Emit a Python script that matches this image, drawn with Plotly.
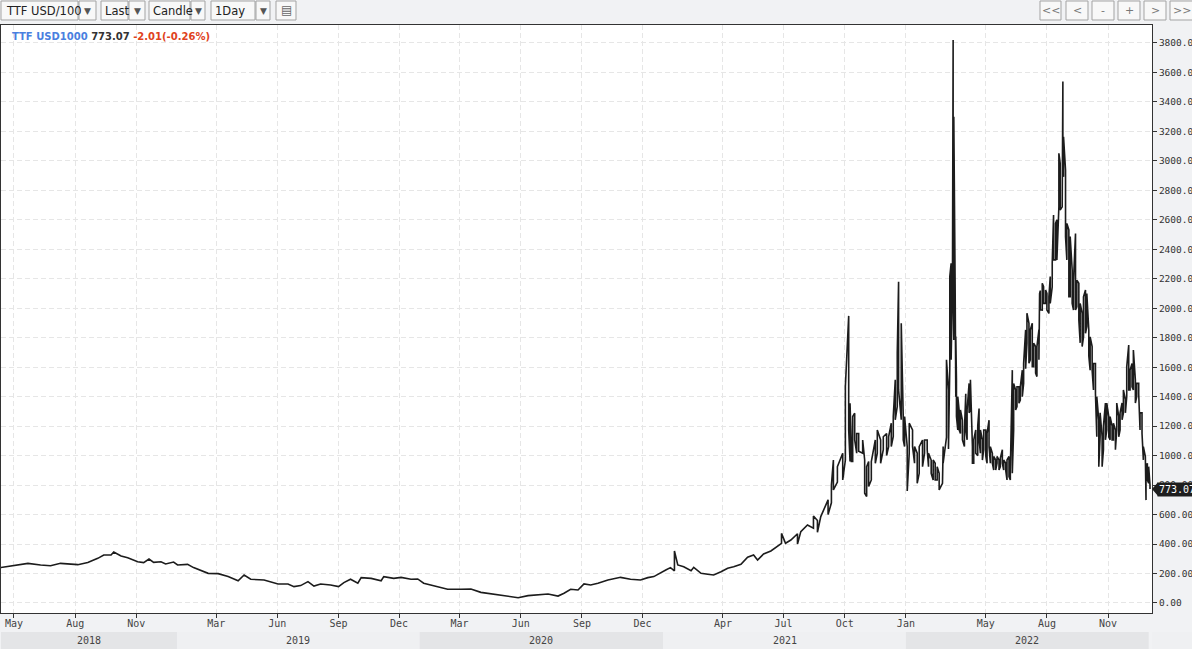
import plotly.graph_objects as go
import pandas as pd

# ---------------- data ----------------
symbol = "TTF USD1000"
last_price = 773.07
change = -2.01
change_pct = -0.26

# calm part: one reading per date (low == high)
calm_dates = [
    "2018-04-11", "2018-05-07", "2018-05-22", "2018-06-10", "2018-06-25", "2018-07-10",
    "2018-08-05", "2018-08-20", "2018-09-04", "2018-09-13", "2018-09-24", "2018-09-28",
    "2018-10-09", "2018-10-19", "2018-11-03", "2018-11-12", "2018-11-20", "2018-11-27",
    "2018-12-08", "2018-12-15", "2018-12-27", "2019-01-02", "2019-01-17", "2019-01-26",
    "2019-02-06", "2019-02-17", "2019-03-04", "2019-03-19", "2019-04-03", "2019-04-12",
    "2019-04-22", "2019-05-12", "2019-06-02", "2019-06-17", "2019-06-26", "2019-07-06",
    "2019-07-17", "2019-07-26", "2019-08-05", "2019-08-20", "2019-09-01", "2019-09-09",
    "2019-09-19", "2019-09-30", "2019-10-05", "2019-10-20", "2019-11-04", "2019-11-08",
    "2019-11-23", "2019-12-04", "2019-12-19", "2019-12-29", "2020-01-07", "2020-01-22",
    "2020-02-12", "2020-03-03", "2020-03-18", "2020-04-02", "2020-04-21", "2020-05-12",
    "2020-05-28", "2020-06-12", "2020-07-01", "2020-07-12", "2020-07-27", "2020-08-05",
    "2020-08-15", "2020-08-26", "2020-09-04", "2020-09-14", "2020-09-25", "2020-10-10",
    "2020-10-29", "2020-11-13", "2020-11-28", "2020-12-09", "2020-12-18", "2020-12-28",
    "2021-01-05", "2021-01-12",
]
calm_values = [
    240, 258, 269, 258, 253, 269,
    260, 274, 303, 326, 326, 346,
    319, 307, 280, 274, 298, 276,
    280, 265, 278, 258, 262, 240,
    219, 201, 199, 179, 151, 190,
    161, 156, 129, 129, 111, 118,
    145, 115, 129, 122, 111, 138,
    161, 134, 172, 167, 151, 179,
    167, 174, 161, 163, 134, 115,
    93, 93, 95, 72, 61, 47,
    36, 50, 54, 61, 47, 66,
    93, 88, 129, 122, 134, 156,
    174, 161, 156, 172, 179, 201,
    224, 240,
]

# 2021 onward: daily range readings (low, high)
range_dates = [
    "2021-01-18", "2021-01-23", "2021-02-01", "2021-02-12", "2021-02-16", "2021-02-27",
    "2021-03-09", "2021-03-18", "2021-03-29", "2021-04-08", "2021-04-17", "2021-04-28",
    "2021-05-08", "2021-05-17", "2021-05-23", "2021-06-01", "2021-06-12", "2021-06-22",
    "2021-06-28", "2021-07-04", "2021-07-12", "2021-07-22", "2021-07-27", "2021-08-06",
    "2021-08-15", "2021-08-21", "2021-08-26", "2021-09-06", "2021-09-11",
    "2021-09-14", "2021-09-20", "2021-09-28", "2021-10-02", "2021-10-07", "2021-10-09",
    "2021-10-11", "2021-10-13", "2021-10-16", "2021-10-19", "2021-10-22", "2021-10-28",
    "2021-10-31", "2021-11-03", "2021-11-06", "2021-11-10", "2021-11-16", "2021-11-19",
    "2021-11-24", "2021-11-28", "2021-12-03", "2021-12-06", "2021-12-10", "2021-12-13",
    "2021-12-16", "2021-12-19", "2021-12-21", "2021-12-25", "2021-12-28", "2021-12-30",
    "2022-01-03", "2022-01-06", "2022-01-11", "2022-01-14", "2022-01-18", "2022-01-21",
    "2022-01-26", "2022-01-29", "2022-02-02", "2022-02-04", "2022-02-08", "2022-02-11",
    "2022-02-14", "2022-02-17", "2022-02-20", "2022-02-25", "2022-02-26", "2022-03-03",
    "2022-03-06", "2022-03-08", "2022-03-10", "2022-03-12", "2022-03-13", "2022-03-14",
    "2022-03-16", "2022-03-17", "2022-03-18", "2022-03-20", "2022-03-22", "2022-03-24",
    "2022-03-27", "2022-03-30", "2022-04-01", "2022-04-03", "2022-04-06", "2022-04-08",
    "2022-04-11", "2022-04-13", "2022-04-16", "2022-04-19", "2022-04-21", "2022-04-23",
    "2022-04-26", "2022-04-28", "2022-05-01", "2022-05-03", "2022-05-06", "2022-05-08",
    "2022-05-11", "2022-05-13", "2022-05-16", "2022-05-18", "2022-05-21", "2022-05-23",
    "2022-05-26", "2022-05-28", "2022-05-31", "2022-06-02", "2022-06-05", "2022-06-07",
    "2022-06-10", "2022-06-12", "2022-06-15", "2022-06-17", "2022-06-20", "2022-06-22",
    "2022-06-25", "2022-06-27", "2022-06-30", "2022-07-02", "2022-07-05", "2022-07-07",
    "2022-07-10", "2022-07-12", "2022-07-15", "2022-07-17", "2022-07-20", "2022-07-21",
    "2022-07-22", "2022-07-25", "2022-07-27", "2022-07-30", "2022-08-01", "2022-08-04",
    "2022-08-06", "2022-08-09", "2022-08-11", "2022-08-14", "2022-08-16", "2022-08-19",
    "2022-08-21", "2022-08-24", "2022-08-25", "2022-08-26", "2022-08-29", "2022-08-31",
    "2022-09-03", "2022-09-05", "2022-09-08", "2022-09-10", "2022-09-13", "2022-09-15",
    "2022-09-18", "2022-09-20", "2022-09-23", "2022-09-25", "2022-09-28", "2022-09-30",
    "2022-10-03", "2022-10-05", "2022-10-08", "2022-10-10", "2022-10-13", "2022-10-15",
    "2022-10-18", "2022-10-20", "2022-10-23", "2022-10-25", "2022-10-28", "2022-10-30",
    "2022-11-02", "2022-11-04", "2022-11-07", "2022-11-09", "2022-11-12", "2022-11-14",
    "2022-11-17", "2022-11-19", "2022-11-22", "2022-11-24", "2022-11-27", "2022-11-29",
    "2022-12-02", "2022-12-04", "2022-12-07", "2022-12-09", "2022-12-12", "2022-12-14",
    "2022-12-17", "2022-12-19", "2022-12-22", "2022-12-24", "2022-12-27", "2022-12-28",
    "2022-12-30", "2023-01-01", "2023-01-03",
]
range_lows = [
    218, 258, 246, 219, 242, 201,
    195, 190, 212, 235, 246, 262,
    310, 326, 292, 332, 353, 382,
    405, 405, 427, 400, 484, 529,
    507, 480, 586, 600, 680,
    767, 820, 835, 970, 1174, 960,
    960, 960, 1106, 1016, 1030, 1016,
    745, 722, 790, 835, 948, 1016,
    948, 1040, 1000, 1061, 1061, 1130,
    1243, 1333, 1446, 1243, 1106, 1061,
    760, 1016, 1061, 948, 812, 880,
    925, 1016, 1040, 925, 880, 835,
    835, 835, 767, 812, 948, 1124,
    1045, 1604, 1650, 2170, 2305, 1785,
    1808, 1400, 1265, 1174, 1174, 1150,
    1107, 1061, 1174, 1107, 1290, 1310,
    948, 948, 1016, 1000, 1107, 1016,
    970, 1040, 1000, 948, 1061, 948,
    948, 902, 902, 948, 902, 925,
    948, 902, 902, 835, 857, 835,
    880, 1174, 1310, 1333, 1355, 1377,
    1400, 1490, 1590, 1763, 1627, 1650,
    1604, 1604, 1560, 1536, 1650, 1680,
    1990, 1988, 2033, 2033, 1988, 1965,
    2033, 2146, 2328, 2328, 2328, 2688,
    2667, 2688, 2900, 2893, 2486, 2328,
    2079, 2079, 2033, 1988, 1988, 2010,
    1920, 1765, 1740, 1806, 1830, 1875,
    1676, 1580, 1580, 1445, 1420, 1128,
    925, 1128, 925, 1040, 1107, 1174,
    1128, 1107, 1107, 1107, 1040, 1174,
    1128, 1174, 1243, 1290, 1290, 1400,
    1445, 1445, 1467, 1445, 1357, 1400,
    1420, 1174, 1150, 971, 835, 698,
    835, 812, 773.07,
]
range_highs = [
    353, 258, 246, 219, 242, 201,
    195, 190, 212, 235, 246, 262,
    310, 326, 292, 332, 353, 382,
    472, 405, 427, 470, 484, 529,
    590, 560, 586, 700, 800,
    970, 925, 1016, 1470, 1948, 1355,
    1061, 1265, 1288, 1150, 1150, 1106,
    970, 925, 960, 960, 1106, 1174,
    1106, 1128, 1150, 1128, 1220, 1265,
    1514, 1695, 2180, 1898, 1265, 1265,
    1061, 1220, 1174, 1061, 1016, 1061,
    1106, 1106, 1106, 1016, 970, 970,
    948, 925, 880, 925, 1061, 1650,
    1445, 2215, 2305, 2418, 3820, 3300,
    2170, 1808, 1514, 1400, 1310, 1310,
    1240, 1174, 1420, 1310, 1490, 1514,
    1061, 1107, 1174, 1200, 1320, 1174,
    1107, 1174, 1174, 1150, 1240, 1061,
    1016, 994, 970, 994, 970, 983,
    1040, 970, 948, 970, 994, 902,
    1580, 1490, 1445, 1467, 1467, 1467,
    1580, 1627, 1853, 1966, 1898, 1853,
    1898, 1763, 1740, 1740, 1853, 2100,
    2120, 2170, 2146, 2124, 2100, 2078,
    2215, 2305, 2632, 2576, 2600, 3051,
    2984, 3289, 3538, 3164, 2938, 2576,
    2531, 2486, 2260, 2190, 2507, 2190,
    2170, 2033, 1966, 2078, 2124, 2100,
    1853, 1806, 1740, 1625, 1625, 1400,
    1240, 1290, 1128, 1200, 1357, 1357,
    1265, 1265, 1200, 1220, 1174, 1357,
    1265, 1290, 1357, 1445, 1380, 1603,
    1750, 1580, 1625, 1717, 1514, 1490,
    1490, 1290, 1290, 1061, 994, 925,
    948, 925, 800,
]

# axis ticks / labels
month_tickvals = [
    "2018-05-01", "2018-08-01", "2018-11-01", "2019-03-01", "2019-06-01", "2019-09-01",
    "2019-12-01", "2020-03-01", "2020-06-01", "2020-09-01", "2020-12-01", "2021-04-01",
    "2021-07-01", "2021-10-01", "2022-01-01", "2022-05-01", "2022-08-01", "2022-11-01",
]
month_ticktext = [
    "May", "Aug", "Nov", "Mar", "Jun", "Sep",
    "Dec", "Mar", "Jun", "Sep", "Dec", "Apr",
    "Jul", "Oct", "Jan", "May", "Aug", "Nov",
]
year_labels = ["2018", "2019", "2020", "2021", "2022"]
x_range = ["2018-04-11 12:00", "2023-01-06"]
y_range = [-68, 3922]

# ---------------- build the price path ----------------
xs, ys = [], []
for d, v in zip(calm_dates, calm_values):
    xs.append(d)
    ys.append(v)
for i, (d, lo, hi) in enumerate(zip(range_dates, range_lows, range_highs)):
    if lo == hi:
        xs.append(d); ys.append(lo)
    elif i % 2 == 0:
        xs += [d, d]; ys += [lo, hi]
    else:
        xs += [d, d]; ys += [hi, lo]

W, H = 1192, 649
PL, PR, PT, PB = 1, 1152, 25, 613


def pxx(p):
    return (p - PL) / (PR - PL)


def pxy(p):
    return (PB - p) / (PB - PT)


fig = go.Figure()
fig.add_trace(go.Scatter(
    x=xs, y=ys, mode="lines",
    line=dict(color="#1c1c1c", width=1.6),
    hoverinfo="skip", showlegend=False,
))

MONO = "DejaVu Sans Mono"
SANS = "DejaVu Sans"
shapes = []
annotations = []

# year band under the month labels
band_dark, band_light = "#e4e5e7", "#eff0f2"
x0_ts, x1_ts = pd.Timestamp(x_range[0]), pd.Timestamp(x_range[1])
shapes.append(dict(type="rect", xref="paper", yref="paper", x0=1.0, x1=pxx(W + 5),
                   y0=pxy(632), y1=pxy(H + 5), fillcolor=band_light, line=dict(width=0),
                   layer="below"))
for k, yl in enumerate(year_labels):
    a = max(pd.Timestamp(f"{yl}-01-01"), x0_ts)
    b = min(pd.Timestamp(f"{int(yl) + 1}-01-01"), x1_ts)
    col = band_dark if k % 2 == 0 else band_light
    shapes.append(dict(type="rect", xref="x", yref="paper", x0=a, x1=b,
                       y0=pxy(632), y1=pxy(H + 5), fillcolor=col, line=dict(width=0),
                       layer="below"))
    annotations.append(dict(x=a + (b - a) / 2, y=pxy(640.5), xref="x", yref="paper",
                            text=yl, showarrow=False, xanchor="center", yanchor="middle",
                            font=dict(family=MONO, size=10, color="#444")))

# toolbar (top left)
tb_boxes = [(1, 78), (79, 96), (101, 128), (129, 145), (149, 190), (191, 205),
            (211, 255), (256, 270), (276, 296)]
for a, b in tb_boxes:
    shapes.append(dict(type="rect", xref="paper", yref="paper", x0=pxx(a), x1=pxx(b),
                       y0=pxy(20), y1=pxy(1), fillcolor="#f8f8f8",
                       line=dict(color="#a3a3a3", width=1)))
tb_texts = [("TTF USD/100", 4, "left"), ("Last", 103, "left"), ("Candle", 151, "left"),
            ("1Day", 213, "left")]
for t, p, al in tb_texts:
    annotations.append(dict(x=pxx(p), y=pxy(10.5), xref="paper", yref="paper", text=t,
                            xanchor=al, yanchor="middle", showarrow=False,
                            font=dict(family=SANS, size=11.5, color="#222")))
for c in [87.5, 137, 198, 263]:
    annotations.append(dict(x=pxx(c), y=pxy(10.5), xref="paper", yref="paper", text="▼",
                            xanchor="center", yanchor="middle", showarrow=False,
                            font=dict(family=SANS, size=9, color="#555")))
annotations.append(dict(x=pxx(286), y=pxy(10), xref="paper", yref="paper", text="▤",
                        xanchor="center", yanchor="middle", showarrow=False,
                        font=dict(family=SANS, size=12, color="#666")))

# navigation buttons (top right)
nav = [(1040, 1061, "&lt;&lt;"), (1066, 1088, "&lt;"), (1092, 1114, "-"),
       (1118, 1140, "+"), (1144, 1166, "&gt;"), (1170, 1193, "&gt;&gt;")]
for a, b, t in nav:
    shapes.append(dict(type="rect", xref="paper", yref="paper", x0=pxx(a), x1=pxx(b),
                       y0=pxy(20), y1=pxy(1), fillcolor="#f8f8f8",
                       line=dict(color="#a3a3a3", width=1)))
    annotations.append(dict(x=pxx((a + b) / 2), y=pxy(10.5), xref="paper", yref="paper",
                            text=t, xanchor="center", yanchor="middle", showarrow=False,
                            font=dict(family=SANS, size=11, color="#777")))

# header inside the plot
header = (f"<b><span style='color:#4a7fe0'>{symbol}</span> "
          f"<span style='color:#333'>{last_price:.2f}</span> "
          f"<span style='color:#e0421c'>{change:.2f}({change_pct:.2f}%)</span></b>")
annotations.append(dict(x=pxx(10), y=pxy(36.5), xref="paper", yref="paper", text=header,
                        xanchor="left", yanchor="middle", showarrow=False,
                        font=dict(family=SANS, size=10)))

# last price marker on the right axis
annotations.append(dict(x=pxx(1157), y=last_price, xref="paper", yref="y",
                        text=f"{last_price:.2f}", xanchor="left", yanchor="middle",
                        showarrow=False, bgcolor="#1e1e1e", borderpad=1,
                        font=dict(family=MONO, size=10, color="white")))
shapes.append(dict(type="path", xref="paper", yref="y",
                   path=f"M {pxx(1152)},{last_price} L {pxx(1158)},{last_price + 47} "
                        f"L {pxx(1158)},{last_price - 47} Z",
                   fillcolor="#1e1e1e", line=dict(width=0)))

fig.update_layout(
    width=W, height=H,
    margin=dict(l=PL, r=W - PR, t=PT, b=H - PB, pad=0, autoexpand=False),
    paper_bgcolor="#f1f2f4", plot_bgcolor="white",
    showlegend=False,
    shapes=shapes, annotations=annotations,
    xaxis=dict(
        type="date", range=x_range, tickvals=month_tickvals, ticktext=month_ticktext,
        ticks="outside", ticklen=4, tickcolor="#333",
        tickfont=dict(family=MONO, size=10, color="#444"),
        showgrid=True, gridcolor="#e6e6e6", griddash="5px,3px", gridwidth=1,
        showline=True, linecolor="#333", linewidth=1, mirror=True,
        zeroline=False, fixedrange=True, automargin=False,
    ),
    yaxis=dict(
        side="right", range=y_range, dtick=200, tick0=0, tickformat=".2f",
        ticks="outside", ticklen=4, tickcolor="#333",
        tickfont=dict(family=MONO, size=9.5, color="#333"),
        showgrid=True, gridcolor="#e6e6e6", griddash="5px,3px", gridwidth=1,
        showline=True, linecolor="#333", linewidth=1, mirror=True,
        zeroline=False, fixedrange=True, automargin=False,
    ),
)
try:
    fig.update_xaxes(ticklabelstandoff=-3)
except Exception:
    pass

fig.write_html(
    "out.html",
    config={"displayModeBar": False},
    post_script="document.body.style.margin='0';document.body.style.overflow='hidden';",
)
